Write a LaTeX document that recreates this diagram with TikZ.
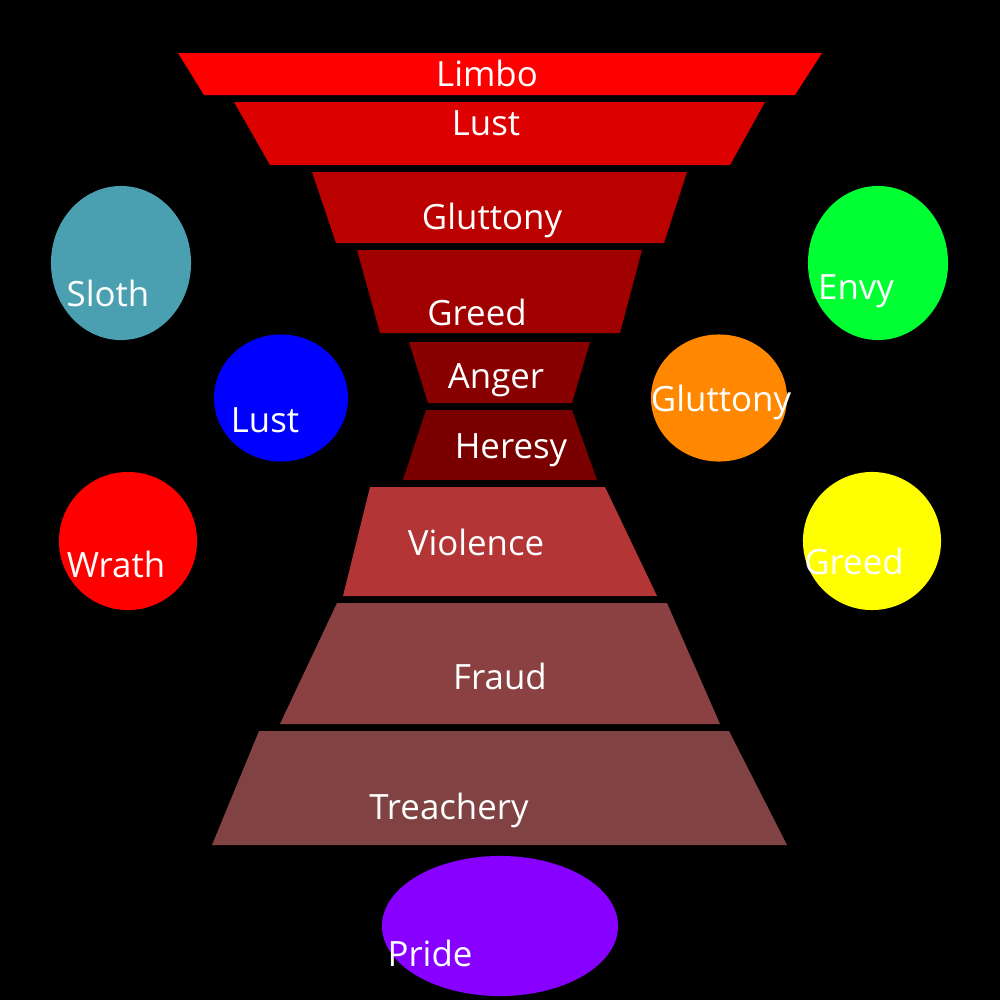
\documentclass[tikz,border=0pt]{standalone}
\usepackage{fontspec}
\setmainfont{Open Sans}
\usetikzlibrary{shapes.geometric}
\definecolor{cLimbo}{HTML}{FF0000}
\definecolor{cLust}{HTML}{DD0000}
\definecolor{cGlut}{HTML}{BB0000}
\definecolor{cGreed}{HTML}{A00000}
\definecolor{cAnger}{HTML}{880000}
\definecolor{cHeresy}{HTML}{7A0000}
\definecolor{cViol}{HTML}{B33535}
\definecolor{cFraud}{HTML}{8B4141}
\definecolor{cTreach}{HTML}{804242}
\definecolor{cSloth}{HTML}{4AA0B0}
\definecolor{cBlue}{HTML}{0000FF}
\definecolor{cWrath}{HTML}{FF0000}
\definecolor{cEnvy}{HTML}{00FF33}
\definecolor{cOrange}{HTML}{FF8800}
\definecolor{cYellow}{HTML}{FFFF00}
\definecolor{cPride}{HTML}{8800FF}
\begin{document}
\begin{tikzpicture}[x=0.01cm,y=-0.01cm,
  lbl/.style={text=white,anchor=base,inner sep=0pt,font=\fontsize{9.9}{11}\selectfont},
  blob/.style={ellipse,inner sep=0pt,draw=none}]
\useasboundingbox (0,0) rectangle (1000,1000);
\fill[black] (0,0) rectangle (1000,1000);
% levels
\fill[cLimbo] (178,53) -- (822,53) -- (795,95) -- (204,95) -- cycle;
\fill[cLust] (234,102) -- (765,102) -- (730,165) -- (270,165) -- cycle;
\fill[cGlut] (312,172) -- (687,172) -- (664,243) -- (336,243) -- cycle;
\fill[cGreed] (357,250) -- (642,250) -- (620,333) -- (380,333) -- cycle;
\fill[cAnger] (409,342) -- (590,342) -- (572,403) -- (428,403) -- cycle;
\fill[cHeresy] (426,410) -- (572,410) -- (597,480) -- (403,480) -- cycle;
\fill[cViol] (370,487) -- (605,487) -- (657,596) -- (343,596) -- cycle;
\fill[cFraud] (337,603) -- (667,603) -- (720,724) -- (280,724) -- cycle;
\fill[cTreach] (259,731) -- (729,731) -- (787,845) -- (212,845) -- cycle;
\node[lbl] (tLimbo) at (487,87) {Limbo};
\node[lbl] (tLust) at (486,135) {Lust};
\node[lbl] (tGlut) at (492,229) {Gluttony};
\node[lbl] (tGreed) at (477,325) {Greed};
\node[lbl] (tAnger) at (496,388) {Anger};
\node[lbl] (tHeresy) at (511,458) {Heresy};
\node[lbl] (tViol) at (476,555) {Violence};
\node[lbl] (tFraud) at (500,689) {Fraud};
\node[lbl] (tTreach) at (449,819) {Treachery};
% sins
\node[blob,fill=cSloth,minimum width=1.40cm,minimum height=1.54cm] (sloth) at (121,263) {};
\node[blob,fill=cBlue,minimum width=1.34cm,minimum height=1.27cm] (lustc) at (281,398) {};
\node[blob,fill=cWrath,minimum width=1.38cm,minimum height=1.38cm] (wrath) at (128,541) {};
\node[blob,fill=cEnvy,minimum width=1.40cm,minimum height=1.54cm] (envy) at (878,263) {};
\node[blob,fill=cOrange,minimum width=1.36cm,minimum height=1.27cm] (glutc) at (719,398) {};
\node[blob,fill=cYellow,minimum width=1.38cm,minimum height=1.38cm] (greedc) at (872,541) {};
\node[blob,fill=cPride,minimum width=2.36cm,minimum height=1.40cm] (pride) at (500,926) {};
\node[lbl] (tSloth) at (108,306) {Sloth};
\node[lbl] (tLustc) at (265,432) {Lust};
\node[lbl] (tWrath) at (116,577) {Wrath};
\node[lbl] (tEnvy) at (856,299) {Envy};
\node[lbl] (tGlutc) at (721,411) {Gluttony};
\node[lbl] (tGreedc) at (854,574) {Greed};
\node[lbl] (tPride) at (430,966) {Pride};
\end{tikzpicture}
\end{document}
